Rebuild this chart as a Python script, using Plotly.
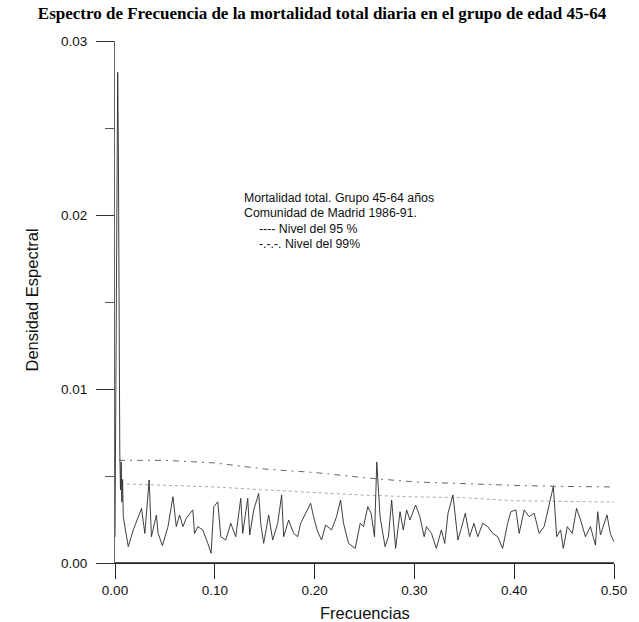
import plotly.graph_objects as go

# Spectral density
freq = [0.0, 0.0014, 0.0027, 0.0034, 0.0041, 0.0048, 0.0055, 0.0062, 0.0069, 0.0076,
        0.0083, 0.0133, 0.0183, 0.0266, 0.0299, 0.0342, 0.0365, 0.0415, 0.0432, 0.0475,
        0.0531, 0.0581, 0.0614, 0.0647, 0.0681, 0.0714, 0.078, 0.0797, 0.083, 0.088,
        0.093, 0.0963, 0.099, 0.103, 0.106, 0.111, 0.116, 0.121, 0.126, 0.128,
        0.133, 0.135, 0.139, 0.144, 0.146, 0.149, 0.154, 0.158, 0.163, 0.167,
        0.169, 0.174, 0.179, 0.183, 0.186, 0.191, 0.196, 0.199, 0.203, 0.207,
        0.211, 0.217, 0.222, 0.226, 0.229, 0.234, 0.2407, 0.2457, 0.249, 0.2533,
        0.2566, 0.26, 0.2623, 0.2656, 0.2706, 0.274, 0.2772, 0.2812, 0.2856, 0.2888,
        0.2922, 0.2955, 0.3012, 0.3055, 0.3098, 0.3121, 0.3171, 0.322, 0.327, 0.3304,
        0.3337, 0.3386, 0.3436, 0.347, 0.351, 0.3553, 0.3596, 0.3635, 0.3685, 0.3735,
        0.3785, 0.3835, 0.3884, 0.3934, 0.3967, 0.4017, 0.405, 0.41, 0.415, 0.42,
        0.425, 0.43, 0.4366, 0.4392, 0.4426, 0.4465, 0.4492, 0.4532, 0.4582, 0.4625,
        0.4665, 0.4714, 0.4764, 0.4814, 0.4837, 0.4864, 0.493, 0.4963, 0.5]
density = [0.0015, 0.0165, 0.0282, 0.0236, 0.0090, 0.0064, 0.0042, 0.0058, 0.0035, 0.0048,
           0.00266, 0.00094, 0.0019, 0.00314, 0.0017, 0.00477, 0.00151, 0.00276, 0.0017, 0.0010,
           0.00209, 0.00381, 0.00209, 0.00276, 0.00209, 0.00257, 0.00305, 0.0017, 0.00209, 0.0019,
           0.00113, 0.00056, 0.00324, 0.00352, 0.00151, 0.00132, 0.00228, 0.00151, 0.00372, 0.0017,
           0.00372, 0.00161, 0.00305, 0.0040, 0.00228, 0.00113, 0.00276, 0.00132, 0.00228, 0.00391,
           0.00151, 0.00247, 0.0017, 0.00151, 0.00228, 0.00286, 0.00343, 0.00266, 0.0018, 0.00132,
           0.00218, 0.0019, 0.00266, 0.00362, 0.00228, 0.00113, 0.00084, 0.00228, 0.00209, 0.00324,
           0.00286, 0.00151, 0.0058, 0.00266, 0.00094, 0.00151, 0.00362, 0.00084, 0.00295, 0.0019,
           0.00305, 0.00247, 0.00333, 0.00266, 0.00151, 0.00209, 0.0017, 0.00084, 0.0019, 0.00113,
           0.00286, 0.00391, 0.00132, 0.00199, 0.00286, 0.00151, 0.00228, 0.00151, 0.00228, 0.00209,
           0.0017, 0.00151, 0.00084, 0.00228, 0.00295, 0.00305, 0.0017, 0.00305, 0.00266, 0.00286,
           0.0017, 0.00209, 0.00362, 0.00439, 0.00151, 0.0019, 0.00084, 0.00209, 0.0017, 0.00314,
           0.00247, 0.00151, 0.00209, 0.00103, 0.00295, 0.00161, 0.00276, 0.0017, 0.00122]

# Significance levels
lvl99_f = [0.004, 0.05, 0.10, 0.15, 0.20, 0.25, 0.30, 0.35, 0.40, 0.45, 0.50]
lvl99_v = [0.0059, 0.0059, 0.00575, 0.0054, 0.0052, 0.0049, 0.00466, 0.00454, 0.00446, 0.0044, 0.00437]
lvl95_f = [0.012, 0.05, 0.10, 0.15, 0.20, 0.25, 0.30, 0.35, 0.40, 0.45, 0.50]
lvl95_v = [0.00454, 0.00448, 0.00437, 0.0042, 0.00405, 0.0039, 0.0038, 0.00375, 0.00358, 0.00352, 0.0035]

x_ticks = [0.0, 0.1, 0.2, 0.3, 0.4, 0.5]
x_ticktext = ["0.00", "0.10", "0.20", "0.30", "0.40", "0.50"]
x_minor_ticks = [0.05, 0.15, 0.25, 0.35, 0.45]
y_ticks = [0.0, 0.01, 0.02, 0.03]
y_ticktext = ["0.00", "0.01", "0.02", "0.03"]

SANS = "Arial, Liberation Sans, sans-serif"

fig = go.Figure()
fig.add_trace(go.Scatter(x=lvl99_f, y=lvl99_v, mode="lines",
                         line=dict(color="#666", width=1, dash="6px,5px,2px,5px"),
                         showlegend=False, hoverinfo="skip"))
fig.add_trace(go.Scatter(x=lvl95_f, y=lvl95_v, mode="lines",
                         line=dict(color="#aaa", width=1, dash="3px,3px"),
                         showlegend=False, hoverinfo="skip"))
fig.add_trace(go.Scatter(x=freq, y=density, mode="lines",
                         line=dict(color="#2a2a2a", width=0.9),
                         showlegend=False, cliponaxis=False))

W, H = 639, 622
L, R, T, B = 115, 22, 41, 59
pw, ph = W - L - R, H - T - B

def px(x):
    return (x - L) / pw

def py(y):
    return (H - B - y) / ph

# x-axis baseline and ticks (drawn explicitly so they always show)
shapes = [dict(type="line", xref="x", yref="y", x0=x_ticks[0], x1=x_ticks[-1], y0=0, y1=0,
               line=dict(color="#222", width=1.3), layer="above")]
for t in x_ticks:
    shapes.append(dict(type="line", xref="x", yref="y", ysizemode="pixel", yanchor=0,
                       x0=t, x1=t, y0=0, y1=-15, line=dict(color="#222", width=1.2), layer="above"))
for t in x_minor_ticks:
    shapes.append(dict(type="line", xref="x", yref="y", ysizemode="pixel", yanchor=0,
                       x0=t, x1=t, y0=0, y1=-8, line=dict(color="#444", width=1.2), layer="above"))

ann = []
ann.append(dict(text="Densidad Espectral", x=px(32), y=py(300), xref="paper", yref="paper",
                textangle=-90, showarrow=False, font=dict(family=SANS, size=16.5, color="#111"),
                xanchor="center", yanchor="middle"))
ann.append(dict(text="Frecuencias", x=px(366), y=py(613), xref="paper", yref="paper",
                showarrow=False, font=dict(family=SANS, size=16.5, color="#111"),
                xanchor="center", yanchor="middle"))
legend_lines = [
    ("Mortalidad total. Grupo 45-64 años", 243, 198),
    ("Comunidad de Madrid 1986-91.", 243, 213),
    ("---- Nivel del 95 %", 258, 229),
    ("-.-.-. Nivel del 99%", 258, 244),
]
for txt, lx, ly in legend_lines:
    ann.append(dict(text=txt, x=px(lx), y=py(ly), xref="paper", yref="paper",
                    showarrow=False, font=dict(family=SANS, size=12.3, color="#111"),
                    xanchor="left", yanchor="middle"))

fig.update_layout(
    width=W, height=H,
    margin=dict(l=L, r=R, t=T, b=B),
    paper_bgcolor="white", plot_bgcolor="white",
    title=dict(text="<b>Espectro de Frecuencia de la mortalidad total diaria en el grupo de edad 45-64</b>",
               x=322 / W, xref="container", xanchor="center",
               y=1 - 13 / H, yref="container", yanchor="middle",
               font=dict(family="Liberation Serif, Times New Roman, serif", size=17, color="#000")),
    annotations=ann,
    shapes=shapes,
    xaxis=dict(range=[0, 0.5], tickvals=x_ticks, ticktext=x_ticktext,
               ticks="outside", ticklen=15, tickwidth=1.2, tickcolor="#222",
               showline=True, linecolor="#222", linewidth=1.3,
               showgrid=False, zeroline=False,
               tickfont=dict(family=SANS, size=13.5, color="#111")),
    yaxis=dict(range=[0, 0.03], tickvals=y_ticks, ticktext=y_ticktext,
               ticks="outside", ticklen=18, tickwidth=1.3, tickcolor="#333",
               minor=dict(dtick=0.005, ticks="outside", ticklen=9, tickwidth=1.2, tickcolor="#555"),
               showline=True, linecolor="#666", linewidth=1,
               showgrid=False, zeroline=False, ticklabelstandoff=6,
               tickfont=dict(family=SANS, size=13.5, color="#111")),
)

fig.write_html("out.html")
